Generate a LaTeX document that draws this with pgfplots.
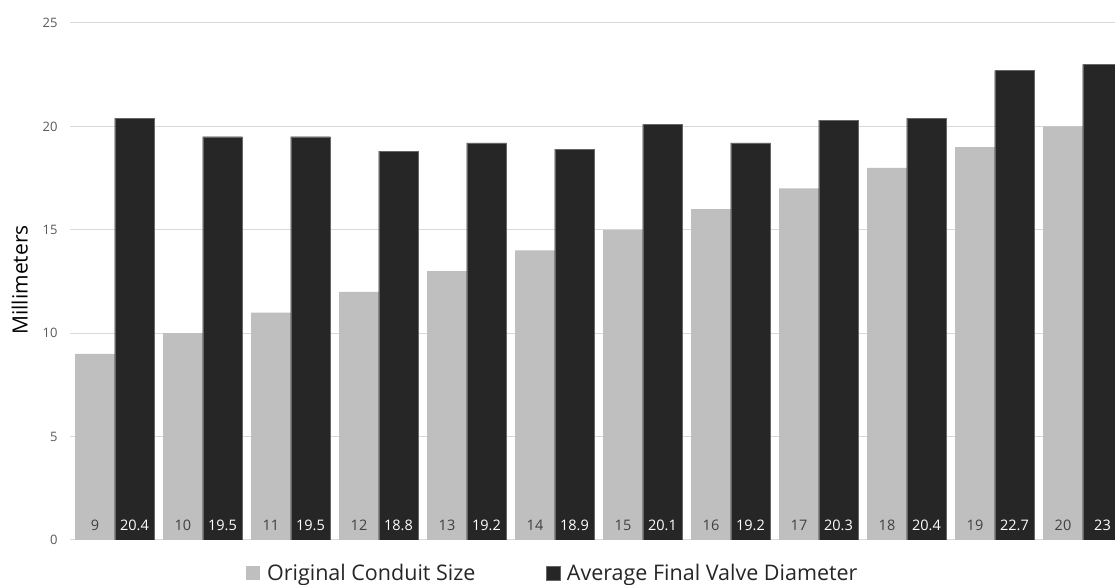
\documentclass[border=0pt]{standalone}
\usepackage{fontspec}
\setmainfont{Open Sans}
\usepackage{pgfplots}
\usepackage{pgfplotstable}
\pgfplotsset{compat=1.18}

\definecolor{origbar}{HTML}{BFBFBF}
\definecolor{finalbar}{HTML}{262626}
\definecolor{gridgray}{HTML}{D9D9D9}
\definecolor{ticktext}{HTML}{595959}
\definecolor{bartext}{HTML}{404040}

% conduit size vs. average final valve diameter (mm)
\pgfplotstableread{
x orig final
0  9  20.4
1  10 19.5
2  11 19.5
3  12 18.8
4  13 19.2
5  14 18.9
6  15 20.1
7  16 19.2
8  17 20.3
9  18 20.4
10 19 22.7
11 20 23
}\data

\begin{document}
\begin{tikzpicture}
\begin{axis}[
  name=ax,
  at={(0,0)}, anchor=south west,
  scale only axis,
  width=1045pt, height=517pt,
  xmin=-0.511, xmax=11.364,
  ymin=0, ymax=25,
  ytick={0,5,...,25},
  xtick=\empty,
  ymajorgrids,
  major grid style={gridgray, line width=1pt},
  axis line style={draw=none},
  major tick length=0pt,
  /pgf/number format/assume math mode=true,
  yticklabel style={font=\fontsize{13}{15}\selectfont, text=ticktext, xshift=-9pt},
  ylabel={Millimeters},
  ylabel style={at={(axis description cs:-0.048,0.503)}, anchor=center,
    font=\fontsize{21}{24}\selectfont, text=black},
  legend style={at={(axis description cs:0.462,-0.039)}, anchor=north,
    draw=none, fill=none, legend columns=2,
    font=\fontsize{21.5}{24}\selectfont, text=finalbar,
    nodes={inner sep=2pt},
    /tikz/every odd column/.append style={column sep=5pt},
    /tikz/every even column/.append style={column sep=68pt}},
  legend image code/.code={\fill[#1] (0pt,-6.5pt) rectangle (14pt,7.5pt);},
]
\addplot[ybar, bar width=0.45, bar shift=-0.227, fill=origbar, draw=none]
  table[x=x, y=orig]{\data};
\addlegendentry{Original Conduit Size}
\addplot[ybar, bar width=0.45, bar shift=0.222, fill=finalbar, draw=gray!80!black, line width=0.4pt]
  table[x=x, y=final]{\data};
\addlegendentry{Average Final Valve Diameter}

% value labels at the foot of each bar
\addplot[forget plot, draw=none, mark=none, nodes near coords, point meta=explicit,
  nodes near coords style={anchor=center, yshift=15pt,
    font=\fontsize{14.5}{16}\selectfont, text=bartext}]
  table[x expr=\thisrow{x}-0.227, y expr=0, meta=orig]{\data};
\addplot[forget plot, draw=none, mark=none, nodes near coords, point meta=explicit,
  nodes near coords style={anchor=center, yshift=15pt,
    font=\fontsize{14.5}{16}\selectfont, text=white}]
  table[x expr=\thisrow{x}+0.222, y expr=0, meta=final]{\data};
\end{axis}
\pgfresetboundingbox
\path (-70pt,-45pt) rectangle (1045pt,540pt);
\end{tikzpicture}
\end{document}
